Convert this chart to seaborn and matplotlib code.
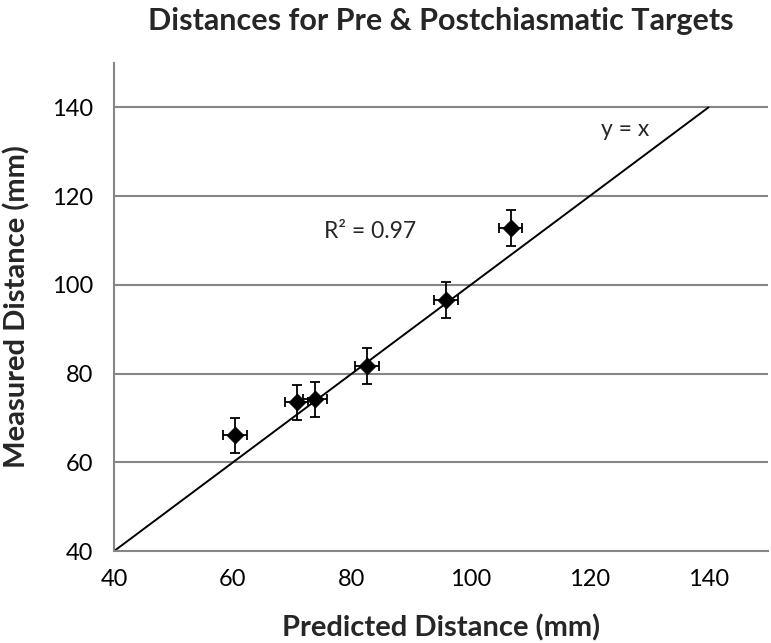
import matplotlib
matplotlib.use("Agg")
import matplotlib.pyplot as plt
import seaborn as sns
import pandas as pd

# values
predicted = [60.3, 70.7, 73.8, 82.5, 95.9, 106.7]
measured = [66.1, 73.5, 74.2, 81.7, 96.6, 112.8]
pred_err = [2, 2, 2, 2, 2, 2]
meas_err = [4, 4, 4, 4, 4, 4]
identity = [40, 140]
ticks = [40, 60, 80, 100, 120, 140]

df = pd.DataFrame({"predicted": predicted, "measured": measured})

sns.set_style("white")
plt.rcParams['font.family'] = ['Lato', 'DejaVu Sans']

grey = "#868686"

fig = plt.figure(figsize=(7.71, 6.43), dpi=100)
ax = fig.add_axes([0.148, 0.143, 0.848, 0.759])

# horizontal gridlines
for t in ticks[1:]:
    ax.axhline(t, color=grey, lw=1.5, zorder=0)

# y = x line
ax.plot(identity, identity, color="black", lw=1.4, zorder=1)

# error bars
ax.errorbar(predicted, measured, xerr=pred_err, yerr=meas_err, fmt="none",
            ecolor="black", elinewidth=1.3, capsize=3.5, capthick=1.3, zorder=2)

sns.scatterplot(data=df, x="predicted", y="measured", marker="D", s=75,
                color="black", edgecolor="black", linewidth=0.5, ax=ax, zorder=3)

ax.set_xlim(40, 150)
ax.set_ylim(40, 150)
ax.set_xticks(ticks)
ax.set_yticks(ticks)
ax.tick_params(axis="both", which="major", direction="out", length=6, width=1.3,
               color=grey, labelsize=17, labelcolor="black")
ax.tick_params(axis="x", pad=7)
ax.tick_params(axis="y", pad=9)
for side in ["top", "right"]:
    ax.spines[side].set_visible(False)
for side in ["left", "bottom"]:
    ax.spines[side].set_color(grey)
    ax.spines[side].set_linewidth(1.5)

ax.set_xlabel("")
ax.set_ylabel("")

ax.text(83, 112, "R² = 0.97", fontsize=16.5, ha="center", va="center")
ax.text(126, 135, "y = x", fontsize=16.5, ha="center", va="center")

fig.text(0.572, 0.968, "Distances for Pre & Postchiasmatic Targets",
         fontsize=22, fontweight="bold", ha="center", va="center")
fig.text(0.572, 0.023, "Predicted Distance (mm)", fontsize=21,
         fontweight="bold", ha="center", va="center")
fig.text(0.022, 0.5225, "Measured Distance (mm)", fontsize=21,
         fontweight="bold", ha="center", va="center", rotation=90)

fig.savefig("out.png", dpi=100)
